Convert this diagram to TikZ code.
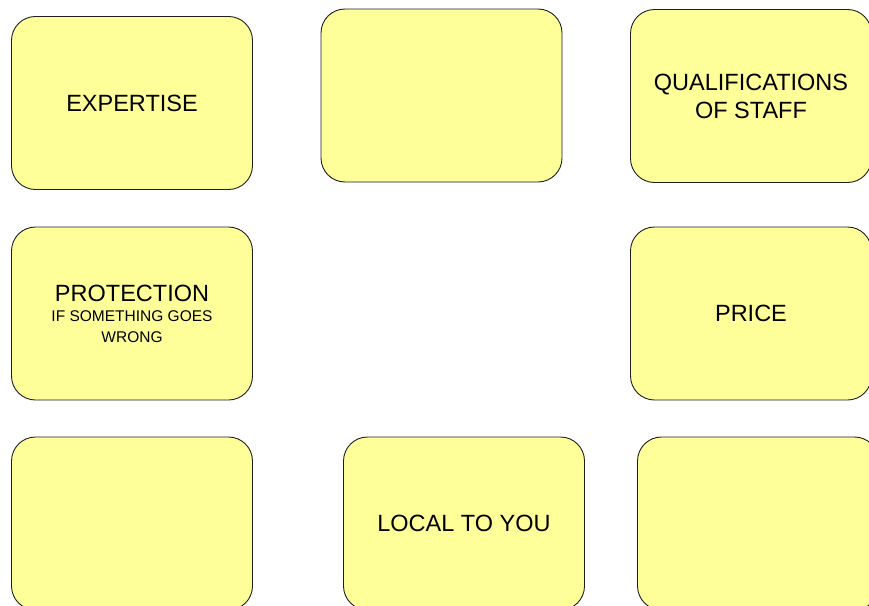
\documentclass[tikz,border=0pt]{standalone}
\usepackage{fontspec}
\setmainfont{Liberation Sans}
\definecolor{cardyellow}{RGB}{255, 255, 153}
\definecolor{cardedge}{RGB}{30, 30, 30}
\usetikzlibrary{positioning}
\newcommand{\cardsmall}{\fontsize{15.5}{18}\selectfont}

\tikzset{
  card/.style={draw=cardedge, line width=0.9pt, fill=cardyellow, rounded corners=24pt,
    minimum width=241pt, minimum height=173pt, inner sep=0pt, align=center,
    font=\fontsize{23.5}{28}\selectfont}
}

\begin{document}
\begin{tikzpicture}[x=1pt, y=1pt]
  \clip (0,0) rectangle (869,-605);

  % Top row
  \node[card] (expertise) at (132,-103) {EXPERTISE};
  \node[card] (blanktop) at (441.5,-95.5) {};
  \node[card] (qualifications) at (751,-96) {QUALIFICATIONS\\OF STAFF};

  % Middle row
  \node[card] (protection) at (132,-313.5) {PROTECTION\\[-8pt]\cardsmall IF SOMETHING GOES\\[-7pt]\cardsmall WRONG};
  \node[card] (price) at (751,-313.5) {PRICE};

  % Bottom row
  \node[card] (blankleft) at (132,-523.5) {};
  \node[card] (local) at (464,-523.5) {LOCAL TO YOU};
  \node[card] (blankright) at (758,-523.5) {};
\end{tikzpicture}
\end{document}
